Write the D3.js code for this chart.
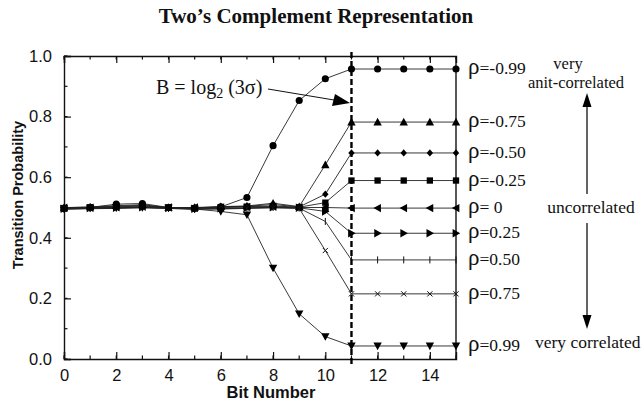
<!DOCTYPE html>
<html>
<head>
<meta charset="utf-8">
<script src="https://cdn.jsdelivr.net/npm/d3@7"></script>
<style>
  html, body { margin: 0; padding: 0; background: #fff; }
  svg { display: block; }
</style>
</head>
<body>
<svg id="chart" width="642" height="403"></svg>
<script>
// Bit positions along the word
const bits = [0, 1, 2, 3, 4, 5, 6, 7, 8, 9, 10, 11, 12, 13, 14, 15];

// Correlation labels for each curve
const rhoLabels = ["-0.99", "-0.75", "-0.50", "-0.25", " 0", "0.25", "0.50", "0.75", "0.99"];

// Marker shape for each curve
const markerShapes = ["circle", "triUp", "diamond", "square", "triLeft", "triRight", "plus", "times", "triDown"];

// Transition probability per bit, one array per correlation value
const pNeg099 = [0.497, 0.500, 0.511, 0.513, 0.500, 0.498, 0.502, 0.533, 0.704, 0.853, 0.925, 0.957, 0.957, 0.957, 0.957, 0.957];
const pNeg075 = [0.499, 0.502, 0.506, 0.509, 0.500, 0.500, 0.503, 0.505, 0.514, 0.503, 0.641, 0.782, 0.782, 0.782, 0.782, 0.782];
const pNeg050 = [0.500, 0.501, 0.504, 0.507, 0.500, 0.499, 0.502, 0.504, 0.510, 0.502, 0.544, 0.680, 0.680, 0.680, 0.680, 0.680];
const pNeg025 = [0.498, 0.500, 0.502, 0.505, 0.499, 0.497, 0.501, 0.503, 0.505, 0.501, 0.516, 0.589, 0.589, 0.589, 0.589, 0.589];
const pZero   = [0.499, 0.499, 0.501, 0.503, 0.500, 0.500, 0.500, 0.502, 0.503, 0.500, 0.500, 0.498, 0.498, 0.498, 0.498, 0.498];
const pPos025 = [0.496, 0.498, 0.499, 0.501, 0.498, 0.496, 0.497, 0.499, 0.501, 0.499, 0.487, 0.415, 0.415, 0.415, 0.415, 0.415];
const pPos050 = [0.495, 0.497, 0.498, 0.500, 0.497, 0.495, 0.496, 0.498, 0.500, 0.498, 0.454, 0.327, 0.327, 0.327, 0.327, 0.327];
const pPos075 = [0.494, 0.496, 0.497, 0.499, 0.497, 0.494, 0.495, 0.497, 0.499, 0.497, 0.358, 0.215, 0.215, 0.215, 0.215, 0.215];
const pPos099 = [0.496, 0.498, 0.500, 0.500, 0.499, 0.495, 0.487, 0.476, 0.300, 0.149, 0.074, 0.043, 0.043, 0.043, 0.043, 0.043];

const seriesValues = [pNeg099, pNeg075, pNeg050, pNeg025, pZero, pPos025, pPos050, pPos075, pPos099];

// Bit where the curves settle
const settleBit = 11;

// Axis tick values
const xMajorTicks = [0, 2, 4, 6, 8, 10, 12, 14];
const xMinorTicks = d3.range(0, 16, 1);
const yMajorTicks = [0.0, 0.2, 0.4, 0.6, 0.8, 1.0];
const yMinorTicks = d3.range(0, 1.0001, 0.1);

const svg = d3.select("#chart");
const plotL = 64, plotR = 456, plotT = 56, plotB = 359;

const x = d3.scaleLinear().domain([0, 15]).range([plotL, plotR]);
const y = d3.scaleLinear().domain([0, 1]).range([plotB, plotT]);

// Marker path generator
function markerPath(shape) {
  const s = 4.2;
  switch (shape) {
    case "circle": return d3.symbol(d3.symbolCircle, 40)();
    case "square": return d3.symbol(d3.symbolSquare, 40)();
    case "diamond": return "M0,-3.6L3.2,0L0,3.6L-3.2,0Z";
    case "triUp": return `M0,${-s}L${s},${s * 0.8}L${-s},${s * 0.8}Z`;
    case "triDown": return `M0,${s}L${s},${-s * 0.8}L${-s},${-s * 0.8}Z`;
    case "triLeft": return `M${-s},0L${s * 0.8},${-s}L${s * 0.8},${s}Z`;
    case "triRight": return `M${s},0L${-s * 0.8},${-s}L${-s * 0.8},${s}Z`;
    case "plus": return "M0,-3.5L0,3.5";
    case "times": return "M-2.6,-2.6L2.6,2.6M-2.6,2.6L2.6,-2.6";
  }
}

// Axis frame ticks (inward)
const frame = svg.append("g");
const axisLeft = d3.axisLeft(y).tickValues(yMajorTicks).tickSize(-7).tickPadding(12).tickFormat(d3.format(".1f"));
const axisBottom = d3.axisBottom(x).tickValues(xMajorTicks).tickSize(-7).tickPadding(10).tickFormat(d3.format("d"));
const axisTop = d3.axisTop(x).tickValues(xMajorTicks).tickSize(-7).tickFormat("");

function styleAxis(g) {
  g.select(".domain").attr("stroke", "#111").attr("stroke-width", 1.4);
  g.selectAll(".tick line").attr("stroke", "#111").attr("stroke-width", 1.2);
  g.selectAll(".tick text").attr("fill", "#111")
    .attr("font-family", "Liberation Sans, Arial, sans-serif").attr("font-size", 16.5);
}

frame.append("g").attr("transform", `translate(${plotL},0)`).call(axisLeft).call(styleAxis);
frame.append("g").attr("transform", `translate(0,${plotB})`).call(axisBottom).call(styleAxis);
frame.append("g").attr("transform", `translate(0,${plotT})`).call(axisTop).call(styleAxis);
frame.append("line").attr("x1", plotR).attr("x2", plotR).attr("y1", plotT).attr("y2", plotB)
  .attr("stroke", "#111").attr("stroke-width", 1.4);

// Minor ticks
frame.selectAll(".ymin").data(yMinorTicks).join("line")
  .attr("x1", plotL).attr("x2", plotL + 3.5).attr("y1", d => y(d)).attr("y2", d => y(d))
  .attr("stroke", "#111").attr("stroke-width", 1.2);
frame.selectAll(".xminb").data(xMinorTicks).join("line")
  .attr("x1", d => x(d)).attr("x2", d => x(d)).attr("y1", plotB).attr("y2", plotB - 3.5)
  .attr("stroke", "#111").attr("stroke-width", 1.2);
frame.selectAll(".xmint").data(xMinorTicks).join("line")
  .attr("x1", d => x(d)).attr("x2", d => x(d)).attr("y1", plotT).attr("y2", plotT + 3.5)
  .attr("stroke", "#111").attr("stroke-width", 1.2);

// Curves
const line = d3.line().x((d, i) => x(bits[i])).y(d => y(d));
const curves = svg.append("g");
seriesValues.forEach((vals) => {
  curves.append("path").datum(vals).attr("d", line)
    .attr("fill", "none").attr("stroke", "#222").attr("stroke-width", 0.9);
});
seriesValues.forEach((vals, k) => {
  const shape = markerShapes[k];
  const stroked = shape === "plus" || shape === "times";
  curves.selectAll(null).data(vals).join("path")
    .attr("transform", (d, i) => `translate(${x(bits[i])},${y(d)})`)
    .attr("d", markerPath(shape))
    .attr("fill", stroked ? "none" : "#000")
    .attr("stroke", stroked ? "#111" : "none")
    .attr("stroke-width", 1);
});

// Dashed boundary at the settling bit
svg.append("line")
  .attr("x1", x(settleBit)).attr("x2", x(settleBit))
  .attr("y1", plotT - 4).attr("y2", plotB + 8)
  .attr("stroke", "#000").attr("stroke-width", 2.4).attr("stroke-dasharray", "6,3");

// Annotation for the boundary
const serif = "Liberation Serif, Times New Roman, serif";
const ann = svg.append("text").attr("x", 156).attr("y", 94)
  .attr("font-family", serif).attr("font-size", 20).attr("fill", "#111");
ann.append("tspan").text("B = log");
ann.append("tspan").attr("font-size", 14).attr("dy", 4).text("2");
ann.append("tspan").attr("dy", -4).text(" (3σ)");
svg.append("line").attr("x1", 268).attr("y1", 89).attr("x2", 337).attr("y2", 100.5)
  .attr("stroke", "#111").attr("stroke-width", 1);
svg.append("path").attr("d", "M350,103L335,94L332,106Z").attr("fill", "#000");

// Curve labels on the right
rhoLabels.forEach((lab, k) => {
  const vals = seriesValues[k];
  const t = svg.append("text").attr("x", 468).attr("y", y(vals[vals.length - 1]) + 5)
    .attr("font-family", serif).attr("fill", "#111").attr("xml:space", "preserve");
  t.append("tspan").attr("font-size", 23).text("ρ");
  t.append("tspan").attr("font-size", 17.5).text("=" + lab);
});

// Correlation direction guide
const guide = svg.append("g").attr("font-family", serif).attr("fill", "#111");
guide.append("text").attr("x", 568).attr("y", 69).attr("text-anchor", "middle").attr("font-size", 16.5).text("very");
guide.append("text").attr("x", 576).attr("y", 88).attr("text-anchor", "middle").attr("font-size", 16.5).text("anit-correlated");
guide.append("text").attr("x", 591).attr("y", 213).attr("text-anchor", "middle").attr("font-size", 17.5).text("uncorrelated");
guide.append("text").attr("x", 535).attr("y", 348).attr("font-size", 17.5).text("very correlated");
svg.append("line").attr("x1", 587).attr("x2", 587).attr("y1", 104).attr("y2", 194)
  .attr("stroke", "#111").attr("stroke-width", 1.3);
svg.append("path").attr("d", "M587,93L591.5,107L582.5,107Z").attr("fill", "#000");
svg.append("line").attr("x1", 587).attr("x2", 587).attr("y1", 223).attr("y2", 318)
  .attr("stroke", "#111").attr("stroke-width", 1.3);
svg.append("path").attr("d", "M587,329L591.5,315L582.5,315Z").attr("fill", "#000");

// Titles
svg.append("text").attr("x", 316).attr("y", 23).attr("text-anchor", "middle")
  .attr("font-family", serif).attr("font-weight", "bold").attr("font-size", 21).attr("fill", "#111")
  .text("Two’s Complement Representation");
svg.append("text").attr("x", 271).attr("y", 398).attr("text-anchor", "middle")
  .attr("font-family", "Liberation Sans, Arial, sans-serif").attr("font-weight", "bold").attr("font-size", 16.5).attr("fill", "#111")
  .text("Bit Number");
svg.append("text").attr("transform", "translate(23,195) rotate(-90)").attr("text-anchor", "middle")
  .attr("font-family", "Liberation Sans, Arial, sans-serif").attr("font-weight", "bold").attr("font-size", 14.5).attr("fill", "#111")
  .text("Transition Probability");
</script>
</body>
</html>
